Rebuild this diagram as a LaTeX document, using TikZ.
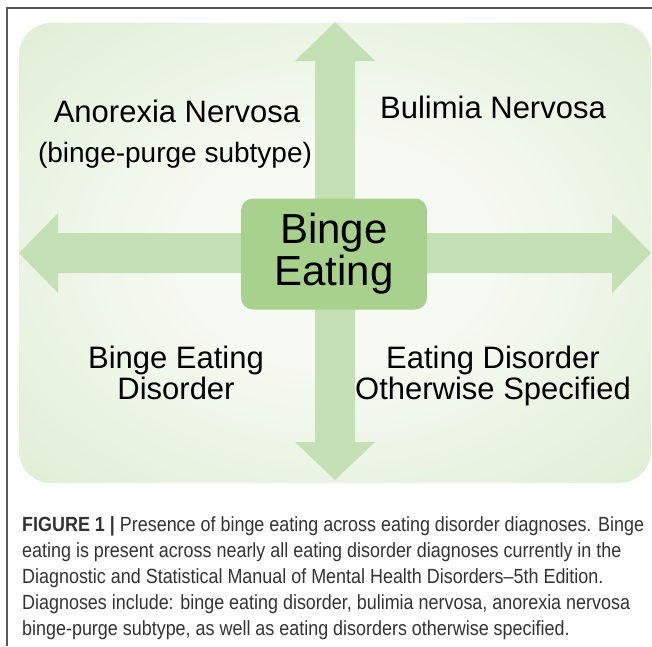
\documentclass[tikz,border=0pt]{standalone}
\usepackage{fontspec}
\setmainfont{Liberation Sans}
\newfontfamily\capfont[FakeStretch=0.875]{Liberation Sans}

\definecolor{panelEdge}{HTML}{C0DDAB}
\definecolor{panelCore}{HTML}{F6FAF3}
\definecolor{arrowFill}{HTML}{C5E0B4}
\definecolor{hubFill}{HTML}{A9D18E}
\definecolor{frameGray}{HTML}{5A5A5A}
\definecolor{captionGray}{HTML}{333333}

% soft glow: pale in the middle, green towards the corners
\pgfdeclareradialshading{panelglow}{\pgfpoint{0bp}{0bp}}{%
  color(0bp)=(panelCore); color(12bp)=(panelCore); color(70bp)=(panelEdge)}

\tikzset{
  framerule/.style={draw=frameGray, line width=1.1pt},
  arrowband/.style={fill=arrowFill},
  hub/.style={fill=hubFill, rounded corners=12pt, minimum width=186pt,
    minimum height=111pt, inner sep=0pt, align=center,
    font=\fontsize{42}{42}\selectfont},
  quad/.style={inner sep=0pt, align=center, text=black,
    font=\fontsize{31}{31}\selectfont},
  subquad/.style={quad, font=\fontsize{28}{28}\selectfont},
  caption/.style={inner sep=0pt, align=left, text=captionGray,
    font=\capfont\fontsize{20.5}{26}\selectfont}
}

\begin{document}
\begin{tikzpicture}[x=1pt,y=-1pt]
\useasboundingbox (0,0) rectangle (652,646);

% page rules
\draw[framerule] (7,646) -- (7,8) -- (652,8);

% shaded panel
\shade[shading=panelglow, rounded corners=32pt] (19,23) rectangle (651,483);

% horizontal double arrow
\fill[arrowband] (19,253) -- (58,213) -- (58,233) -- (612,233) -- (612,213)
  -- (651,253) -- (612,293) -- (612,273) -- (58,273) -- (58,293) -- cycle;
% vertical double arrow
\fill[arrowband] (335,22) -- (375,61) -- (355,61) -- (355,442) -- (375,442)
  -- (335,480) -- (295,442) -- (315,442) -- (315,61) -- (295,61) -- cycle;

% central box
\node[hub] (hub) at (334,254) {Binge\\Eating};

% quadrant labels (base anchor = baseline of the last line)
\node[quad, anchor=base] (an) at (177,122) {Anorexia Nervosa};
\node[subquad, anchor=base] (ansub) at (175,162) {(binge-purge subtype)};
\node[quad, anchor=base] (bn) at (493,118) {Bulimia Nervosa};
\node[quad, anchor=base] (bed) at (176,399) {Binge Eating\\Disorder};
\node[quad, anchor=base] (osfed) at (493,399) {Eating Disorder\\Otherwise Specified};

% caption
\node[caption, anchor=base west] (cap) at (22,635) {%
  \textbf{FIGURE 1 |} Presence of binge eating across eating disorder diagnoses. Binge\\
  eating is present across nearly all eating disorder diagnoses currently in the\\
  Diagnostic and Statistical Manual of Mental Health Disorders–5th Edition.\\
  Diagnoses include: binge eating disorder, bulimia nervosa, anorexia nervosa\\
  binge-purge subtype, as well as eating disorders otherwise specified.};
\end{tikzpicture}
\end{document}
